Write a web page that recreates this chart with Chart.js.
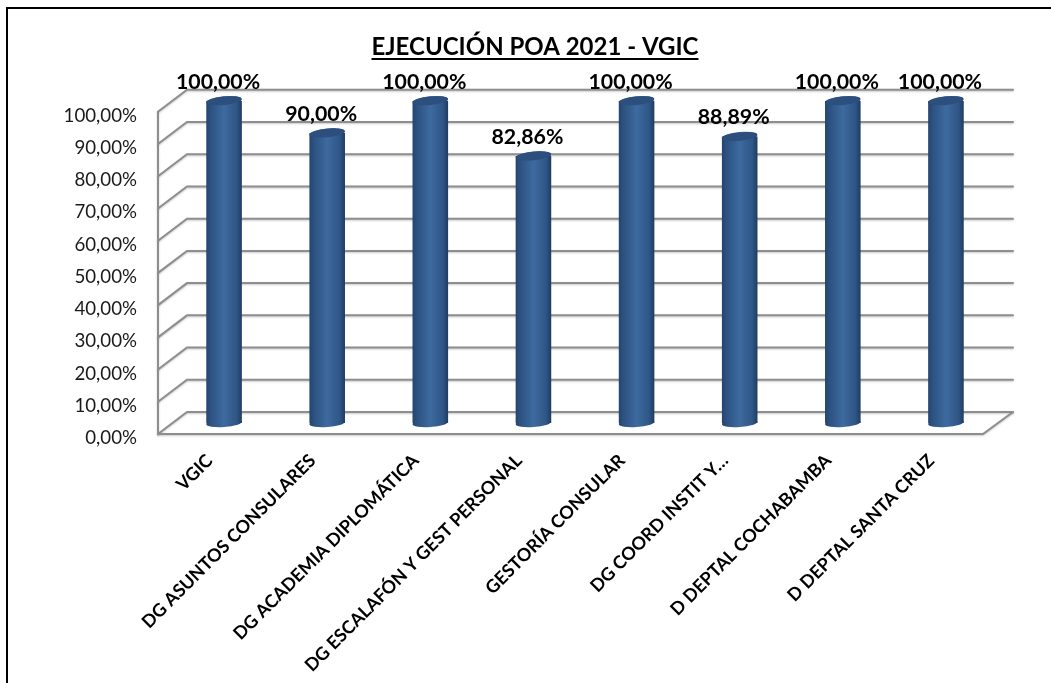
<!DOCTYPE html>
<html><head><meta charset="utf-8">
<style>html,body{margin:0;padding:0;background:#fff}canvas{display:block}</style>
<script src="https://cdn.jsdelivr.net/npm/chart.js@4"></script>
</head><body><canvas id="c" width="1051" height="683"></canvas>
<script>
const categories=["VGIC","DG ASUNTOS CONSULARES","DG ACADEMIA DIPLOMÁTICA","DG ESCALAFÓN Y GEST PERSONAL","GESTORÍA CONSULAR","DG COORD INSTIT Y…","D DEPTAL COCHABAMBA","D DEPTAL SANTA CRUZ"];
const values=[100,90,100,82.86,100,88.89,100,100];
const titleText="EJECUCIÓN POA 2021 - VGIC";
const FONT="Lato, Carlito, sans-serif";
const fmt=v=>v.toFixed(2).replace('.',',')+'%';
const DX=29,DY=22,MX=14.5,MY=11;
const bevel=(ctx,x0,x1)=>{const g=ctx.createLinearGradient(x0,0,x1,0);
 g.addColorStop(0,'#24436c');g.addColorStop(.12,'#2c5180');g.addColorStop(.5,'#3d6a9f');g.addColorStop(.85,'#2f5686');g.addColorStop(1,'#1f3a5f');return g;};
const scene={id:'scene',
 afterLayout(ch){ch.titleBlock.left=87;},
 beforeDraw(ch){const c=ch.ctx;c.save();c.fillStyle='#fff';c.fillRect(0,0,1051,683);
  c.strokeStyle='#000';c.lineWidth=2;c.beginPath();c.moveTo(1051,8);c.lineTo(7,8);c.lineTo(7,683);c.stroke();
  const {x,y}=ch.scales,a=ch.chartArea;
  c.strokeStyle='#8e8e8e';c.lineWidth=2;c.lineCap='round';c.shadowColor='rgba(0,0,0,.22)';c.shadowBlur=2;c.shadowOffsetY=1;
  y.ticks.forEach(t=>{const p=y.getPixelForValue(t.value);c.beginPath();c.moveTo(a.left,p);c.lineTo(a.left+DX,p-DY);c.lineTo(a.right+DX+1,p-DY);c.stroke();});
  c.beginPath();c.moveTo(a.left,a.top);c.lineTo(a.left,a.bottom);c.lineTo(a.right,a.bottom);c.lineTo(a.right+DX+1,a.bottom-DY);c.stroke();
  c.restore();},
 beforeDatasetsDraw(ch){const c=ch.ctx;c.save();c.translate(MX,-MY);
  ch.getDatasetMeta(0).data.forEach(b=>{const w=b.width/2;c.fillStyle=bevel(c,b.x-w,b.x+w);c.beginPath();c.ellipse(b.x,b.base,w,4,-.07,0,Math.PI*2);c.fill();});},
 afterDatasetsDraw(ch){const c=ch.ctx;
  ch.getDatasetMeta(0).data.forEach(b=>{const w=b.width/2;
   c.fillStyle=bevel(c,b.x-w,b.x+w);c.beginPath();c.ellipse(b.x,b.y,w,4.6,-.1,0,Math.PI*2);c.fill();
   c.fillStyle='#2c4f7e';c.beginPath();c.ellipse(b.x,b.y,w-.5,4.2,-.1,0,Math.PI*2);c.fill();});
  c.restore();
  c.save();c.fillStyle='#000';c.font='bold 21.3px '+FONT;c.textAlign='center';c.textBaseline='middle';
  ch.getDatasetMeta(0).data.forEach((b,i)=>{c.fillText(fmt(values[i]),b.x+MX-6,b.y-MY-19);});
  const tb=ch.titleBlock,cx=(tb.left+tb.right)/2;c.font='bold 24px '+FONT;
  const w=c.measureText(titleText).width;c.strokeStyle='#000';c.lineWidth=2;c.beginPath();c.moveTo(cx-w/2,59);c.lineTo(cx+w/2,59);c.stroke();
  c.restore();}
};
new Chart(document.getElementById('c'),{type:'bar',
 data:{labels:categories,datasets:[{data:values,backgroundColor:ctx=>{const a=ctx.chart.chartArea;if(!a)return '#2f5686';
   const bw=ctx.chart.scales.x.getPixelForValue(ctx.dataIndex);return bevel(ctx.chart.ctx,bw-18,bw+18);},borderWidth:0,barPercentage:1,categoryPercentage:.345}]},
 plugins:[scene],
 options:{responsive:false,animation:false,
  layout:{padding:{left:20,right:68,top:0,bottom:0}},
  plugins:{legend:{display:false},tooltip:{enabled:false},
   title:{display:true,text:titleText,color:'#000',font:{family:FONT,size:24,weight:'bold'},padding:{top:33,bottom:50}}},
  scales:{
   x:{grid:{display:false},border:{display:false},afterFit:s=>{s.height=249;},
      ticks:{autoSkip:false,minRotation:45,maxRotation:45,color:'#000',padding:8,font:{family:FONT,size:18,weight:'bold'}}},
   y:{min:0,max:100,afterFit:s=>{s.width=138;},grid:{display:false},border:{display:false},
      ticks:{stepSize:10,color:'#1a1a1a',padding:13,labelOffset:4,font:{family:FONT,size:18.7},callback:v=>fmt(v)}}
  }}});
</script></body></html>
